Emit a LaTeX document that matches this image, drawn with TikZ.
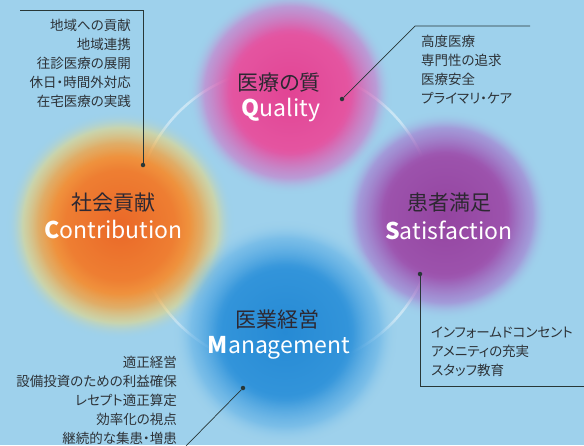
\documentclass[tikz,border=0pt]{standalone}
\usepackage{fontspec}
\setmainfont{Noto Sans CJK JP}[RawFeature=+palt]
\usetikzlibrary{fadings}
\definecolor{bg}{RGB}{158,209,236}
\definecolor{headc}{RGB}{45,40,50}
\definecolor{listc}{RGB}{45,50,55}
\definecolor{linec}{RGB}{40,55,55}
\definecolor{pkA}{RGB}{226,68,148}
\definecolor{pkB}{RGB}{228,84,160}
\definecolor{pkC}{RGB}{205,120,200}
\definecolor{orA}{RGB}{234,104,40}
\definecolor{orB}{RGB}{238,126,50}
\definecolor{orC}{RGB}{240,165,72}
\definecolor{orD}{RGB}{234,216,128}
\definecolor{puA}{RGB}{148,68,160}
\definecolor{puB}{RGB}{156,82,172}
\definecolor{puC}{RGB}{165,120,205}
\definecolor{blA}{RGB}{38,138,212}
\definecolor{blB}{RGB}{50,148,218}
\definecolor{blC}{RGB}{100,178,230}
\pgfdeclareradialshading{pinkball}{\pgfpointorigin}{color(0bp)=(pkA); color(14bp)=(pkB); color(21bp)=(pkC); color(25bp)=(bg); color(50bp)=(bg)}
\pgfdeclareradialshading{orangeball}{\pgfpointorigin}{color(0bp)=(orA); color(12bp)=(orB); color(18bp)=(orC); color(21.5bp)=(orD); color(25bp)=(bg); color(50bp)=(bg)}
\pgfdeclareradialshading{purpleball}{\pgfpointorigin}{color(0bp)=(puA); color(14bp)=(puB); color(21bp)=(puC); color(25bp)=(bg); color(50bp)=(bg)}
\pgfdeclareradialshading{blueball}{\pgfpointorigin}{color(0bp)=(blA); color(14bp)=(blB); color(21bp)=(blC); color(25bp)=(bg); color(50bp)=(bg)}
\pgfdeclareradialshading{softballshade}{\pgfpointorigin}{color(0bp)=(white); color(15bp)=(white); color(21bp)=(white!60!black); color(25bp)=(black); color(50bp)=(black)}
\pgfdeclarefading{softball}{\pgfuseshading{softballshade}}
\begin{document}
\begin{tikzpicture}[x=1pt,y=-1pt,
  jp/.style={font=\fontsize{21}{24}\selectfont, text=headc, inner sep=0},
  en/.style={font=\fontsize{23}{26}\selectfont, text=white, inner sep=0},
  lst/.style={font=\fontsize{13.5}{19}\selectfont, text=listc, inner sep=0},
  conn/.style={draw=linec, line width=0.7pt},
  dotc/.style={circle, fill=linec, inner sep=0, minimum size=4.5pt}]
\fill[bg] (0,0) rectangle (584,445);
\useasboundingbox (0,0) rectangle (584,445);
% faint ring
\draw[white, opacity=0.45, line width=2.5pt] (285,218) circle (150);
% balls
\shade[shading=pinkball, path fading=softball] (290,92) circle (102);
\shade[shading=orangeball, path fading=softball] (120,225) circle (114);
\shade[shading=purpleball, path fading=softball] (445,215) circle (104);
\shade[shading=blueball, path fading=softball] (285,332) circle (112);
% headings
\node[jp] (qjp) at (279,83) {医療の質};
\node[en] (qen) at (281,110) {{\bfseries Q}uality};
\node[jp] (cjp) at (113,203) {社会貢献};
\node[en] (cen) at (113.5,230) {{\bfseries C}ontribution};
\node[jp] (sjp) at (449,203) {患者満足};
\node[en] (sen) at (449,230) {{\bfseries S}atisfaction};
\node[jp] (mjp) at (277,320) {医業経営};
\node[en] (men) at (279,348) {{\bfseries M}anagement};
% lists
\node[lst, align=right, anchor=east] (ltl) at (131,63) {地域への貢献\\地域連携\\往診医療の展開\\休日・時間外対応\\在宅医療の実践};
\node[lst, align=left, anchor=west] (ltr) at (421,70) {高度医療\\専門性の追求\\医療安全\\プライマリ・ケア};
\node[lst, align=left, anchor=west] (lbr) at (431,352) {インフォームドコンセント\\アメニティの充実\\スタッフ教育};
\node[lst, align=right, anchor=east] (lbl) at (177,400) {適正経営\\設備投資のための利益確保\\レセプト適正算定\\効率化の視点\\継続的な集患・増患};
% connectors
\node[dotc] (d1) at (143,165) {};
\coordinate (tl0) at (20,10);
\coordinate (tl1) at (143,10);
\draw[conn] (tl0) -- (tl1) -- (d1);
\node[dotc] (d2) at (342,99) {};
\coordinate (tr0) at (530,26);
\coordinate (tr1) at (415,26);
\draw[conn] (tr0) -- (tr1) -- (d2);
\node[dotc] (d3) at (420,274) {};
\coordinate (br1) at (420,386);
\coordinate (br2) at (584,386);
\draw[conn] (d3) -- (br1) -- (br2);
\node[dotc] (d4) at (243,388) {};
\coordinate (bl1) at (186,446);
\draw[conn] (d4) -- (bl1);
\end{tikzpicture}
\end{document}
